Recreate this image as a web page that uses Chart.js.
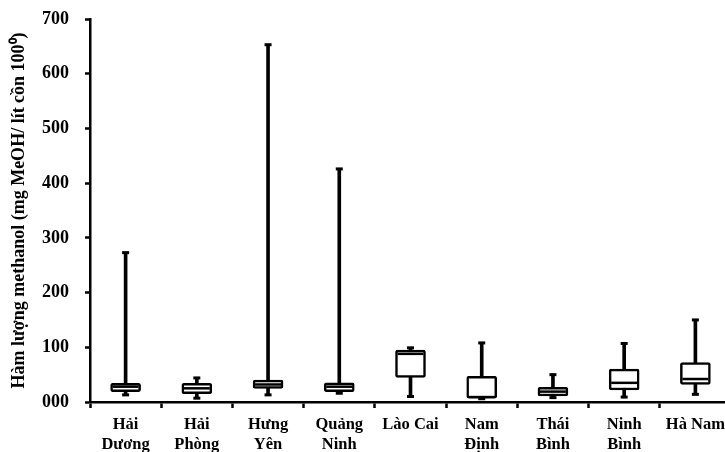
<!DOCTYPE html>
<html>
<head>
<meta charset="utf-8">
<script src="https://cdn.jsdelivr.net/npm/chart.js@4"></script>
<style>
  html, body { margin: 0; padding: 0; background: #fff; overflow: hidden; }
  #wrap { width: 725px; height: 452px; overflow: hidden; }
</style>
</head>
<body>
<div id="wrap"><canvas id="chart" width="735" height="452"></canvas></div>
<script>
const provinces = [
    ['Hải', 'Dương'], ['Hải', 'Phòng'], ['Hưng', 'Yên'], ['Quảng', 'Ninh'],
    'Lào Cai', ['Nam', 'Định'], ['Thái', 'Bình'], ['Ninh', 'Bình'], 'Hà Nam'
];
const minValues    = [13,  7, 13, 16, 10,   6,  8,   9,  14];
const q1Values     = [19, 15, 25, 19, 45,   7, 11,  22,  32];
const medianValues = [28, 25, 32, 28, 88,   9, 19,  35,  42];
const q3Values     = [34, 34, 40, 35, 95,  47, 27,  60,  72];
const maxValues    = [273, 44, 653, 426, 99, 108, 50, 107, 150];
const yTicks = [0, 100, 200, 300, 400, 500, 600, 700];

const serif = '"Liberation Serif", "Times New Roman", serif';

// medians and whisker caps, placed with the chart's own scales
const boxExtras = {
    id: 'boxExtras',
    afterDatasetsDraw(chart) {
        const ctx = chart.ctx;
        const y = chart.scales.y;
        const boxes = chart.getDatasetMeta(0).data;
        ctx.save();
        ctx.strokeStyle = '#000';
        ctx.lineCap = 'butt';
        boxes.forEach((el, i) => {
            const half = el.width / 2;
            ctx.lineWidth = 2.5;
            const ym = y.getPixelForValue(medianValues[i]);
            ctx.beginPath();
            ctx.moveTo(el.x - half + 2, ym);
            ctx.lineTo(el.x + half - 2, ym);
            ctx.stroke();

            ctx.lineWidth = 3;
            [minValues[i], maxValues[i]].forEach(v => {
                const yp = y.getPixelForValue(v);
                ctx.beginPath();
                ctx.moveTo(el.x - 3.5, yp);
                ctx.lineTo(el.x + 3.5, yp);
                ctx.stroke();
            });
        });
        ctx.restore();
    }
};

new Chart(document.getElementById('chart'), {
    type: 'bar',
    data: {
        labels: provinces,
        datasets: [
            {
                label: 'box',
                data: q1Values.map((q1, i) => [q1, q3Values[i]]),
                backgroundColor: '#fff',
                borderColor: '#000',
                borderWidth: 2.5,
                borderSkipped: false,
                borderRadius: 2,
                barThickness: 30,
                grouped: false,
                order: 0
            },
            {
                label: 'whisker',
                data: minValues.map((mn, i) => [mn, maxValues[i]]),
                backgroundColor: '#000',
                borderWidth: 0,
                barThickness: 3,
                grouped: false,
                order: 1
            }
        ]
    },
    options: {
        responsive: false,
        animation: false,
        devicePixelRatio: 1,
        layout: { padding: { top: 19, right: 4, left: 0, bottom: 0 } },
        plugins: { legend: { display: false }, tooltip: { enabled: false } },
        scales: {
            x: {
                offset: true,
                grid: {
                    offset: true,
                    drawOnChartArea: false,
                    drawTicks: true,
                    tickLength: 6,
                    tickWidth: 2.5,
                    color: '#000'
                },
                border: { display: true, color: '#000', width: 2.5 },
                ticks: {
                    color: '#000',
                    padding: 7,
                    maxRotation: 0,
                    autoSkip: false,
                    font: { family: serif, size: 16.5, weight: 'bold', lineHeight: 1.2 }
                },
                afterFit: axis => { axis.height = 50; }
            },
            y: {
                min: 0,
                max: 700,
                afterBuildTicks: axis => { axis.ticks = yTicks.map(v => ({ value: v })); },
                grid: {
                    drawOnChartArea: false,
                    drawTicks: true,
                    tickLength: 5,
                    tickWidth: 2.5,
                    color: '#000'
                },
                border: { display: true, color: '#000', width: 2.5 },
                ticks: {
                    color: '#000',
                    padding: 16,
                    font: { family: serif, size: 18, weight: 'bold' },
                    callback: v => String(v).padStart(3, '0')
                },
                title: {
                    display: true,
                    text: 'Hàm lượng methanol (mg MeOH/ lít cồn 100⁰)',
                    color: '#000',
                    padding: { top: 9, bottom: 0 },
                    font: { family: serif, size: 18, weight: 'bold' }
                },
                afterFit: axis => {
                    axis.width = 90;
                    // label padding is set on the layout instead
                    axis.paddingTop = 0;
                    axis.paddingBottom = 0;
                }
            }
        }
    },
    plugins: [boxExtras]
});
</script>
</body>
</html>
